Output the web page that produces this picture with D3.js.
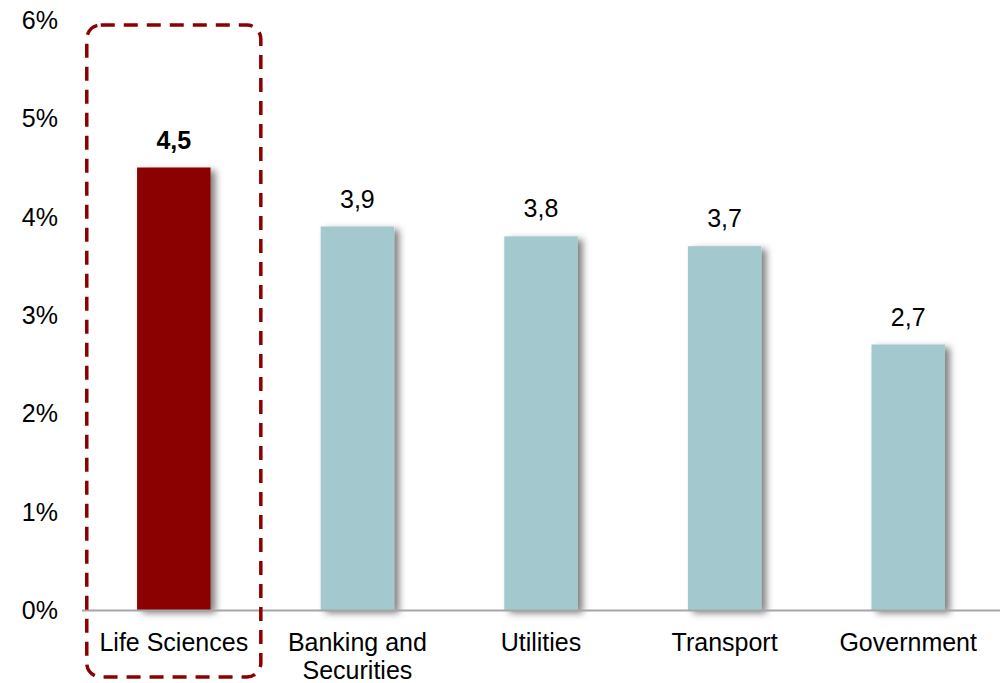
<!DOCTYPE html>
<html>
<head>
<meta charset="utf-8">
<script src="https://cdn.jsdelivr.net/npm/d3@7"></script>
<style>
  html, body { margin: 0; padding: 0; background: #fff; }
  svg { display: block; font-family: "Liberation Sans", Arial, sans-serif; }
</style>
</head>
<body>
<svg id="chart" width="1004" height="683"></svg>
<script>
// Industry values (percent)
const categories = ["Life Sciences", "Banking and\nSecurities", "Utilities", "Transport", "Government"];
const values = [4.5, 3.9, 3.8, 3.7, 2.7];
const valueLabels = ["4,5", "3,9", "3,8", "3,7", "2,7"];
const yTicks = [0, 1, 2, 3, 4, 5, 6];
const highlighted = "Life Sciences";

(function () {
  const svg = d3.select("#chart");
  const plotLeft = 82, plotRight = 1000, plotTop = 20, plotBase = 610;

  const x = d3.scaleBand()
    .domain(categories)
    .range([plotLeft, plotRight])
    .paddingInner(0.6)
    .paddingOuter(0.3);

  const y = d3.scaleLinear().domain([0, 6]).range([plotBase, plotTop]);

  // soft shadow to the lower right of each bar
  const defs = svg.append("defs");
  const f = defs.append("filter").attr("id", "barShadow")
    .attr("x", "-10%").attr("y", "-10%").attr("width", "140%").attr("height", "130%");
  f.append("feDropShadow")
    .attr("dx", 5).attr("dy", 3).attr("stdDeviation", 3.5)
    .attr("flood-color", "#000").attr("flood-opacity", 0.5);

  // y tick labels
  svg.append("g").selectAll("text")
    .data(yTicks)
    .join("text")
    .attr("x", 58)
    .attr("y", d => y(d))
    .attr("dy", "0.36em")
    .attr("text-anchor", "end")
    .attr("font-size", 25)
    .attr("fill", "#000")
    .text(d => d + "%");

  // bars
  svg.append("g").selectAll("rect")
    .data(categories)
    .join("rect")
    .attr("x", d => x(d))
    .attr("y", (d, i) => y(values[i]))
    .attr("width", x.bandwidth())
    .attr("height", (d, i) => y(0) - y(values[i]))
    .attr("fill", d => d === highlighted ? "#8B0000" : "#A3C8CD")
    .attr("filter", "url(#barShadow)");

  // baseline
  svg.append("line")
    .attr("x1", plotLeft).attr("x2", plotRight)
    .attr("y1", y(0) + 0.5).attr("y2", y(0) + 0.5)
    .attr("stroke", "#A6A6A6").attr("stroke-width", 2);

  // value labels
  svg.append("g").selectAll("text")
    .data(categories)
    .join("text")
    .attr("x", d => x(d) + x.bandwidth() / 2)
    .attr("y", (d, i) => y(values[i]) - 19)
    .attr("text-anchor", "middle")
    .attr("font-size", 25)
    .attr("font-weight", d => d === highlighted ? "bold" : "normal")
    .attr("fill", "#000")
    .text((d, i) => valueLabels[i]);

  // category labels (multi-line)
  const cl = svg.append("g").selectAll("text")
    .data(categories)
    .join("text")
    .attr("x", d => x(d) + x.bandwidth() / 2)
    .attr("y", 651)
    .attr("text-anchor", "middle")
    .attr("font-size", 25)
    .attr("fill", "#000");
  cl.each(function (d) {
    const t = d3.select(this);
    d.split("\n").forEach((line, k) => {
      t.append("tspan")
        .attr("x", x(d) + x.bandwidth() / 2)
        .attr("dy", k === 0 ? 0 : 28)
        .text(line);
    });
  });

  // dashed highlight frame around the first category
  const cx = x(highlighted) + x.bandwidth() / 2;
  const half = x.step() * 0.474;
  svg.append("rect")
    .attr("x", cx - half)
    .attr("y", 25)
    .attr("width", half * 2)
    .attr("height", 652)
    .attr("rx", 14).attr("ry", 14)
    .attr("fill", "none")
    .attr("stroke", "#8B0000")
    .attr("stroke-width", 3.5)
    .attr("stroke-dasharray", "14,9");
})();
</script>
</body>
</html>
